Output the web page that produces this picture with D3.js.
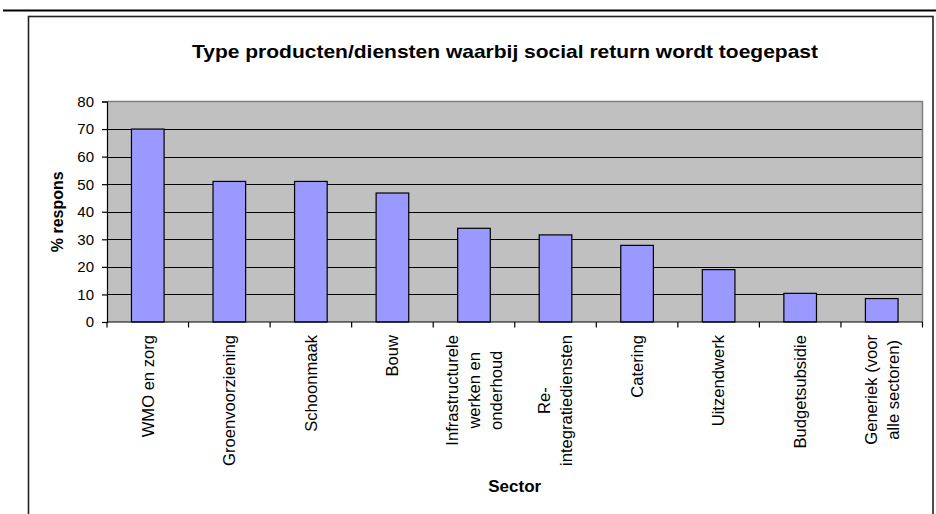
<!DOCTYPE html>
<html>
<head>
<meta charset="utf-8">
<script src="https://cdn.jsdelivr.net/npm/d3@7"></script>
<style>
  html, body { margin: 0; padding: 0; background: #fff; }
  svg { display: block; font-family: "Liberation Sans", Arial, sans-serif; }
</style>
</head>
<body>
<svg id="chart" width="936" height="514"></svg>
<script>
const chartTitle = "Type producten/diensten waarbij social return wordt toegepast";
const yTitle = "% respons";
const xTitle = "Sector";
const categories = ["WMO en zorg", "Groenvoorziening", "Schoonmaak", "Bouw",
  "Infrastructurele werken en onderhoud", "Re-integratiediensten", "Catering",
  "Uitzendwerk", "Budgetsubsidie", "Generiek (voor alle sectoren)"];
const categoryLines = [["WMO en zorg"], ["Groenvoorziening"], ["Schoonmaak"], ["Bouw"],
  ["Infrastructurele", "werken en", "onderhoud"], ["Re-", "integratiediensten"], ["Catering"],
  ["Uitzendwerk"], ["Budgetsubsidie"], ["Generiek (voor", "alle sectoren)"]];
const values = [70, 51, 51, 46.8, 34, 31.6, 27.8, 19, 10.4, 8.5];
const yTicks = [0, 10, 20, 30, 40, 50, 60, 70, 80];

const svg = d3.select("#chart");
const plot = { left: 107, right: 922.5, top: 101.5, bottom: 322 };

// outer decorations
svg.append("line").attr("x1", 3).attr("x2", 936).attr("y1", 10.5).attr("y2", 10.5)
  .attr("stroke", "#000").attr("stroke-width", 2);
svg.append("rect").attr("x", 28.5).attr("y", 16.5).attr("width", 904.5).attr("height", 520)
  .attr("fill", "#fff").attr("stroke", "#222").attr("stroke-width", 1.6);

const x = d3.scaleBand().domain(categories).range([plot.left, plot.right]).paddingInner(0).paddingOuter(0);
const y = d3.scaleLinear().domain([0, 80]).range([plot.bottom, plot.top]);

// plot background
svg.append("rect").attr("x", plot.left).attr("y", plot.top)
  .attr("width", plot.right - plot.left).attr("height", plot.bottom - plot.top)
  .attr("fill", "#C0C0C0");

// gridlines
svg.append("g").selectAll("line").data(yTicks.filter(d => d > 0 && d < 80)).join("line")
  .attr("x1", plot.left).attr("x2", plot.right)
  .attr("y1", d => Math.round(y(d)) + 0.5).attr("y2", d => Math.round(y(d)) + 0.5)
  .attr("stroke", "#000").attr("stroke-width", 1);

// plot border top/right
svg.append("path")
  .attr("d", `M${plot.left},${plot.top}H${plot.right}V${plot.bottom}`)
  .attr("fill", "none").attr("stroke", "#808080").attr("stroke-width", 1.5);

// bars
const barW = x.bandwidth() / 2.5;
svg.append("g").selectAll("rect").data(values).join("rect")
  .attr("x", (d, i) => x(categories[i]) + (x.bandwidth() - barW) / 2)
  .attr("y", d => y(d))
  .attr("width", barW)
  .attr("height", d => y(0) - y(d))
  .attr("fill", "#9999FF").attr("stroke", "#000").attr("stroke-width", 1.2);

// y axis
const yAxis = d3.axisLeft(y).tickValues(yTicks).tickSize(5).tickPadding(8);
const gy = svg.append("g").attr("transform", `translate(${plot.left},0)`).call(yAxis);
gy.select(".domain").attr("stroke", "#000").attr("stroke-width", 1.2);
gy.selectAll(".tick line").attr("stroke", "#000").attr("stroke-width", 1.2);
gy.selectAll(".tick text").attr("font-size", 15).attr("fill", "#000")
  .attr("font-family", "Liberation Sans, Arial, sans-serif");

// x axis (ticks at category boundaries)
const boundaries = categories.map(c => x(c)).concat([plot.right]);
svg.append("line").attr("x1", plot.left).attr("x2", plot.right)
  .attr("y1", plot.bottom).attr("y2", plot.bottom).attr("stroke", "#000").attr("stroke-width", 1.2);
svg.append("g").selectAll("line").data(boundaries).join("line")
  .attr("x1", d => d).attr("x2", d => d)
  .attr("y1", plot.bottom).attr("y2", plot.bottom + 5.5)
  .attr("stroke", "#000").attr("stroke-width", 1.2);

// x category labels, rotated
const labelTop = 335;
const lineGap = 22;
categoryLines.forEach((lines, i) => {
  const cx = x(categories[i]) + x.bandwidth() / 2;
  const g = svg.append("g").attr("transform", `translate(${cx},${labelTop}) rotate(-90)`);
  const texts = lines.map((ln, j) => g.append("text")
    .attr("y", (j - (lines.length - 1) / 2) * lineGap)
    .attr("dy", "0.35em")
    .attr("font-size", 16.6).attr("fill", "#000")
    .text(ln));
  const maxLen = d3.max(texts, t => t.node().getComputedTextLength());
  texts.forEach(t => t.attr("x", -maxLen / 2).attr("text-anchor", "middle"));
});

// axis titles
svg.append("text").attr("transform", `translate(57,${(plot.top + plot.bottom) / 2}) rotate(-90)`)
  .attr("text-anchor", "middle").attr("dy", "0.35em")
  .attr("font-size", 16).attr("font-weight", "bold").text(yTitle);
svg.append("text").attr("x", (plot.left + plot.right) / 2).attr("y", 492)
  .attr("text-anchor", "middle").attr("font-size", 17).attr("font-weight", "bold").text(xTitle);

// chart title
svg.append("text").attr("x", 505).attr("y", 58.3)
  .attr("text-anchor", "middle").attr("font-size", 18.6).attr("font-weight", "bold")
  .attr("textLength", 626).attr("lengthAdjust", "spacingAndGlyphs")
  .text(chartTitle);
</script>
</body>
</html>
